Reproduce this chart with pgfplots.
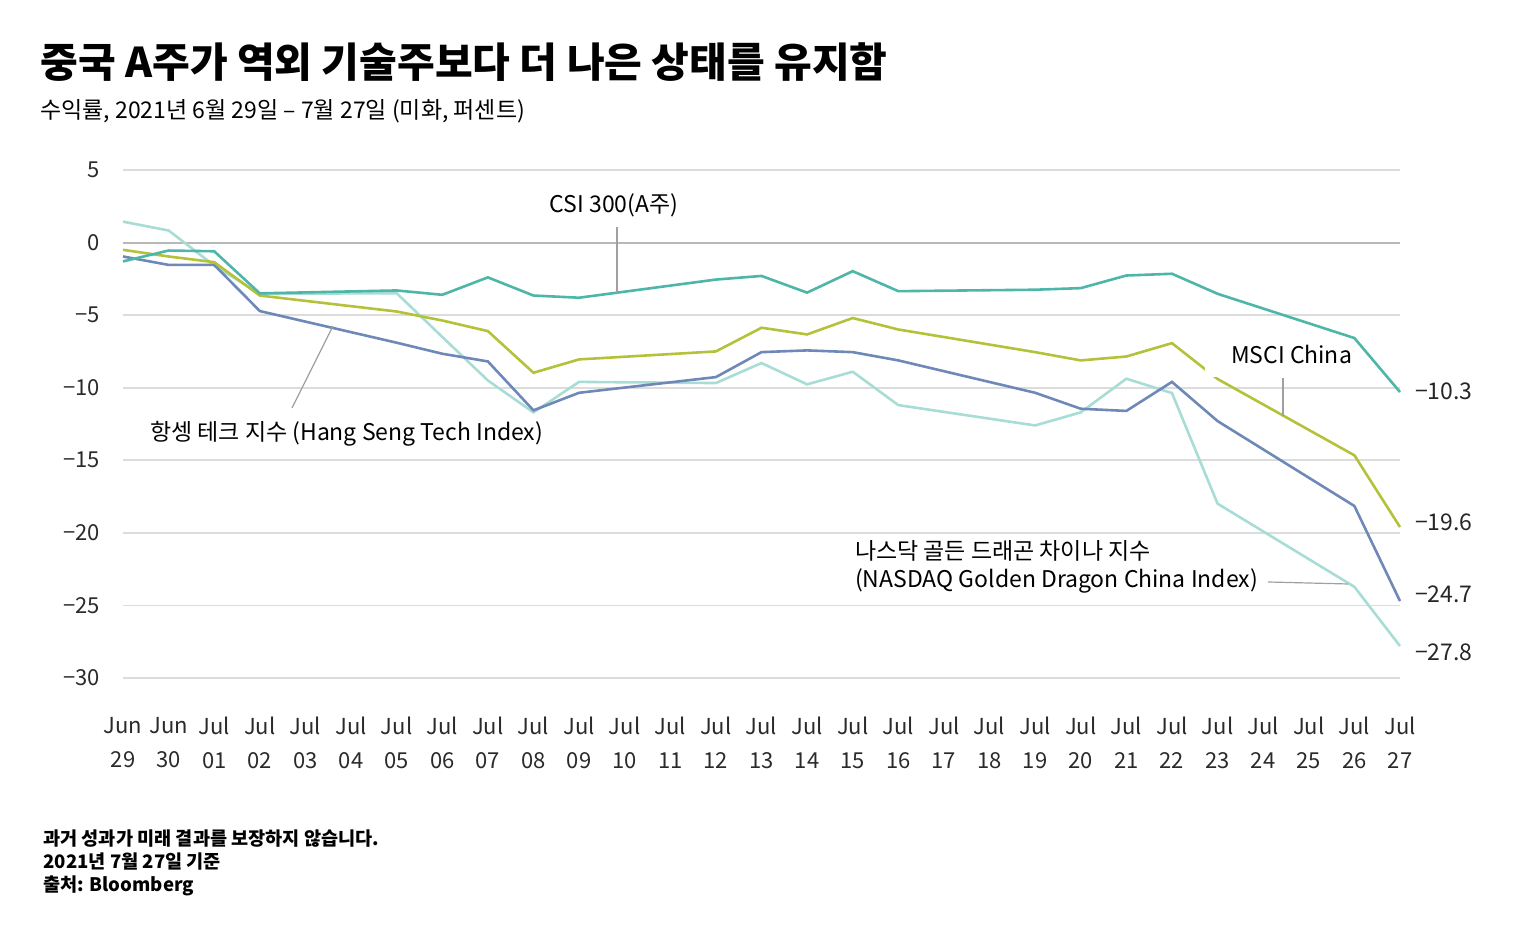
\documentclass[border=0pt]{standalone}
\usepackage{fontspec}
\setmainfont{Noto Sans CJK KR}
\usepackage{pgfplots}
\pgfplotsset{compat=1.18}
\definecolor{csi}{HTML}{4DB6A8}
\definecolor{msci}{HTML}{B4C23A}
\definecolor{hst}{HTML}{6E88B8}
\definecolor{ndq}{HTML}{A8DDD5}
\definecolor{gridc}{HTML}{DCDCDC}
\definecolor{zeroc}{HTML}{B8B8B8}
\definecolor{tickc}{HTML}{2A2A2A}
\definecolor{leader}{HTML}{A0A0A0}

\pgfplotstableread{
x csi msci hst ndq
0 -1.30 -0.50 -0.96 1.44
1 -0.55 -0.96 -1.54 0.83
2 -0.60 -1.35 -1.54 -1.58
3 -3.50 -3.65 -4.72 -3.53
6 -3.30 -4.75 -6.90 -3.49
7 -3.60 -5.37 -7.66 -6.50
8 -2.40 -6.10 -8.19 -9.50
9 -3.65 -8.97 -11.56 -11.70
10 -3.80 -8.05 -10.35 -9.60
13 -2.55 -7.50 -9.27 -9.68
14 -2.30 -5.87 -7.55 -8.30
15 -3.45 -6.33 -7.43 -9.77
16 -1.97 -5.20 -7.55 -8.90
17 -3.35 -5.99 -8.12 -11.20
20 -3.25 -7.55 -10.35 -12.60
21 -3.14 -8.12 -11.45 -11.70
22 -2.27 -7.85 -11.60 -9.38
23 -2.15 -6.93 -9.60 -10.37
24 -3.53 -9.40 -12.30 -17.99
27 -6.58 -14.66 -18.15 -23.72
28 -10.30 -19.60 -24.70 -27.80
}\datatable

\begin{document}
\begin{tikzpicture}[x=0.5pt,y=0.5pt]
\path (0,0) rectangle (1533,940);
\node[anchor=base west, font=\fontsize{20.5}{24}\selectfont\bfseries, inner sep=0] at (40,862) {중국 A주가 역외 기술주보다 더 나은 상태를 유지함};
\node[anchor=west, font=\fontsize{11.5}{14}\selectfont, inner sep=0] at (40,829) {수익률, 2021년 6월 29일 – 7월 27일 (미화, 퍼센트)};

\begin{axis}[at={(61.5pt,131pt)}, anchor=south west, scale only axis,
  width=638.5pt, height=254pt,
  xmin=0, xmax=28, ymin=-30, ymax=5,
  axis line style={draw=none}, major tick length=0pt,
  ymajorgrids, grid style={gridc, line width=0.8pt},
  extra y ticks={0}, extra y tick labels={},
  extra y tick style={grid style={zeroc, line width=1pt}},
  ytick={-30,-25,...,5},
  yticklabels={−30,−25,−20,−15,−10,−5,0,5},
  yticklabel style={font=\fontsize{11}{13}\selectfont, text=tickc, xshift=-8pt},
  xtick={0,...,28},
  xticklabels={{Jun\\29},{Jun\\30},{Jul\\01},{Jul\\02},{Jul\\03},{Jul\\04},{Jul\\05},{Jul\\06},{Jul\\07},{Jul\\08},{Jul\\09},{Jul\\10},{Jul\\11},{Jul\\12},{Jul\\13},{Jul\\14},{Jul\\15},{Jul\\16},{Jul\\17},{Jul\\18},{Jul\\19},{Jul\\20},{Jul\\21},{Jul\\22},{Jul\\23},{Jul\\24},{Jul\\25},{Jul\\26},{Jul\\27}},
  xticklabel style={align=center, font=\fontsize{11}{17}\selectfont, text=tickc, yshift=-16pt},
  clip=false]
\addplot[ndq, line width=1.3pt] table[x=x, y=ndq] {\datatable};
\addplot[hst, line width=1.3pt] table[x=x, y=hst] {\datatable};
\addplot[msci, line width=1.3pt] table[x=x, y=msci] {\datatable};
\addplot[csi, line width=1.3pt] table[x=x, y=csi] {\datatable};
\end{axis}

\fill[white] (1205,599) rectangle (1350,563);
\node[font=\fontsize{11.5}{13}\selectfont] at (614,735) {CSI 300(A주)};
\draw[leader, line width=0.6pt] (617,713) -- (617,647);
\node[anchor=west, font=\fontsize{11.5}{13}\selectfont] at (143,506) {항셍 테크 지수 (Hang Seng Tech Index)};
\draw[leader, line width=0.6pt] (292,532) -- (333,614);
\node[anchor=west, font=\fontsize{11.5}{13}\selectfont] at (1224,585) {MSCI China};
\draw[leader, line width=0.6pt] (1283,562) -- (1283,524);
\node[anchor=west, align=left, font=\fontsize{11.5}{14}\selectfont] at (848,373) {나스닥 골든 드래곤 차이나 지수\\(NASDAQ Golden Dragon China Index)};
\draw[leader, line width=0.6pt] (1268,358) -- (1348,356);

\node[anchor=west, font=\fontsize{11.5}{13}\selectfont, text=black!85] at (1408,549) {−10.3};
\node[anchor=west, font=\fontsize{11.5}{13}\selectfont, text=black!85] at (1408,418) {−19.6};
\node[anchor=west, font=\fontsize{11.5}{13}\selectfont, text=black!85] at (1408,346) {−24.7};
\node[anchor=west, font=\fontsize{11.5}{13}\selectfont, text=black!85] at (1408,288) {−27.8};

\node[anchor=north west, align=left, font=\fontsize{9.3}{11.5}\selectfont\bfseries, inner sep=0] at (43,111) {과거 성과가 미래 결과를 보장하지 않습니다.\\2021년 7월 27일 기준\\출처: Bloomberg};
\end{tikzpicture}
\end{document}
